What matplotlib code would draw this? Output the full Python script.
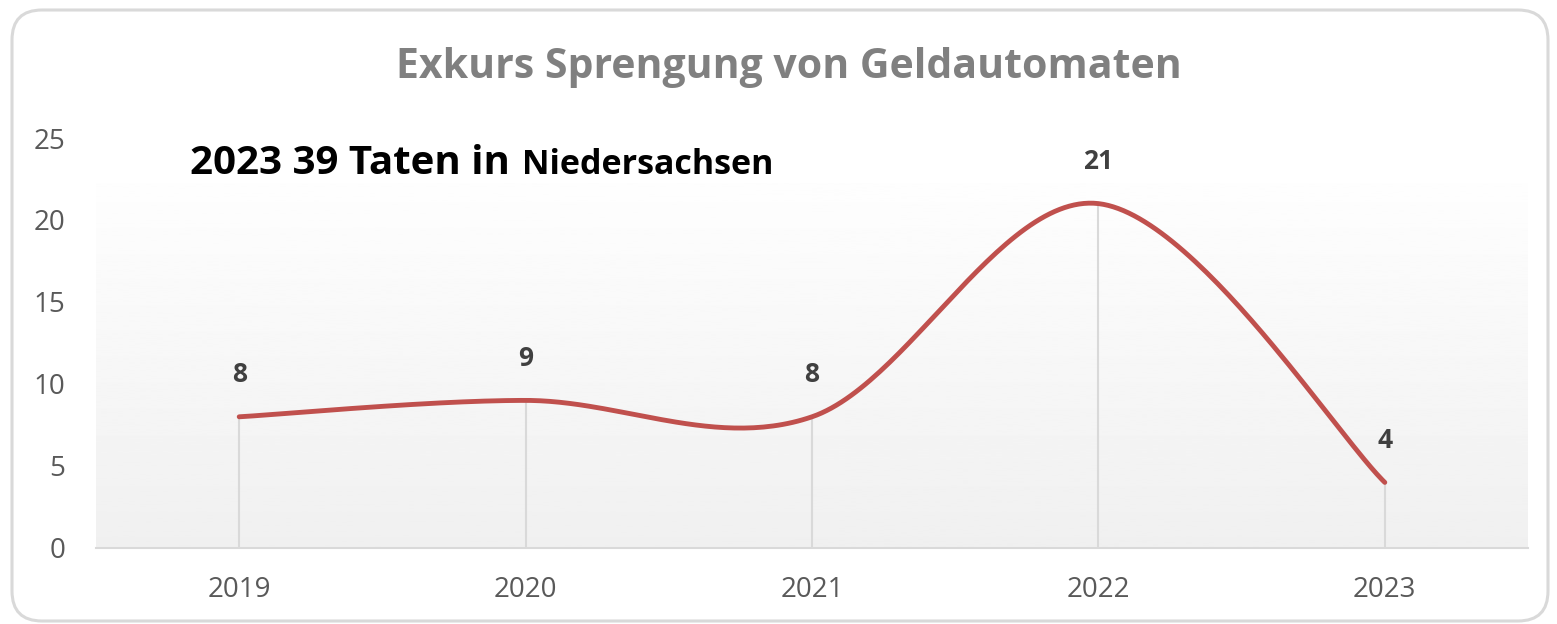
import matplotlib.pyplot as plt
import numpy as np
from matplotlib.patches import FancyBboxPatch
from matplotlib.transforms import IdentityTransform

years = ["2019", "2020", "2021", "2022", "2023"]
counts = [8, 9, 8, 21, 4]
y_ticks = [0, 5, 10, 15, 20, 25]


def smooth(xs, ys, n=60):
    # Excel style smoothed line: bezier segments with catmull-rom control points
    xs = np.asarray(xs, float)
    ys = np.asarray(ys, float)
    px = np.concatenate([[xs[0]], xs, [xs[-1]]])
    py = np.concatenate([[ys[0]], ys, [ys[-1]]])
    out_x, out_y = [], []
    t = np.linspace(0, 1, n)
    for i in range(1, len(px) - 2):
        p0 = np.array([px[i], py[i]])
        p3 = np.array([px[i + 1], py[i + 1]])
        c1 = p0 + (p3 - np.array([px[i - 1], py[i - 1]])) / 6
        c2 = p3 - (np.array([px[i + 2], py[i + 2]]) - p0) / 6
        b = ((1 - t) ** 3)[:, None] * p0 + (3 * (1 - t) ** 2 * t)[:, None] * c1 \
            + (3 * (1 - t) * t ** 2)[:, None] * c2 + (t ** 3)[:, None] * p3
        out_x.extend(b[:, 0])
        out_y.extend(b[:, 1])
    return np.array(out_x), np.array(out_y)


plt.rcParams['font.family'] = ['Open Sans', 'DejaVu Sans']

fig = plt.figure(figsize=(15.57, 6.24), dpi=100)
fig.patch.set_facecolor('white')

# rounded outer frame (pixel coordinates)
frame = FancyBboxPatch((12, 3), 1536, 611,
                       boxstyle="round,pad=0,rounding_size=30",
                       transform=IdentityTransform(), facecolor='none',
                       edgecolor='#d9d9d9', linewidth=2.2, zorder=-1)
fig.patches.append(frame)

ax = fig.add_axes([96 / 1557, 76 / 624, 1432 / 1557, 410 / 624])
ax.set_facecolor('none')

# gradient background of the plot area
grad = np.linspace(0.94, 0.995, 256).reshape(-1, 1)
ax.imshow(grad, cmap='gray', vmin=0, vmax=1, aspect='auto',
          extent=(0, 1, 0, 0.89), transform=ax.transAxes, origin='lower', zorder=0)

x = np.arange(len(years))
ax.vlines(x, 0, counts, color='#d9d9d9', linewidth=1.5, zorder=1)
sx, sy = smooth(x, counts)
ax.plot(sx, sy, color='#c0504d', linewidth=3.5, solid_capstyle='round', zorder=3)

for xi, v in zip(x, counts):
    ax.annotate(str(v), (xi, v), xytext=(0, 42), textcoords='offset pixels',
                ha='center', va='center', fontsize=19, fontweight='bold', color='#404040')

ax.set_xlim(-0.5, len(years) - 0.5)
ax.set_ylim(0, 25)
ax.set_xticks(x)
ax.set_xticklabels(years)
ax.set_yticks(y_ticks)
ax.tick_params(axis='both', length=0, labelsize=20, labelcolor='#595959')
ax.tick_params(axis='y', pad=22)
ax.tick_params(axis='x', pad=20)
for s in ['top', 'right', 'left']:
    ax.spines[s].set_visible(False)
ax.spines['bottom'].set_color('#d9d9d9')
ax.spines['bottom'].set_linewidth(1.5)

fig.text(789 / 1557, 1 - 68 / 624, "Exkurs Sprengung von Geldautomaten",
         ha='center', va='center', fontsize=29.5, fontweight='bold', color='#808080')

t1 = fig.text(190 / 1557, 1 - 174 / 624, "2023 39 Taten in", ha='left', va='baseline',
              fontsize=29, fontweight='bold', color='black')
fig.canvas.draw()
bb = t1.get_window_extent()
fig.text((bb.x1 + 12) / 1557, 1 - 174 / 624, "Niedersachsen", ha='left', va='baseline',
         fontsize=24.5, fontweight='bold', color='black')

fig.savefig('out.png', dpi=100)
